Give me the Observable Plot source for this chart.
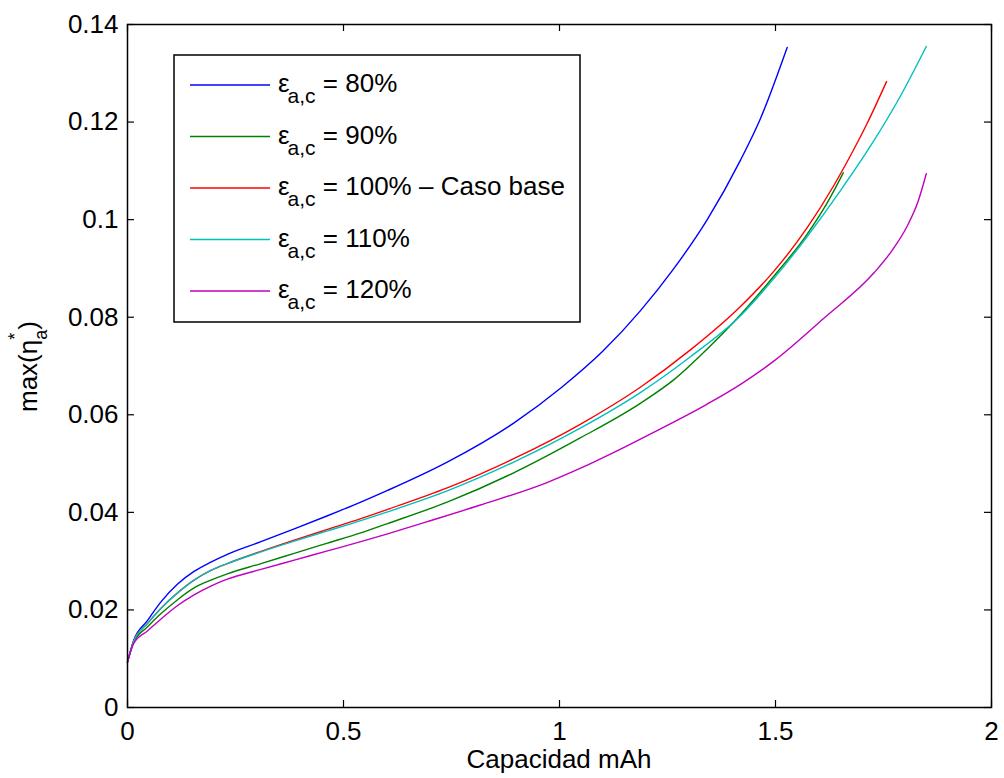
<!DOCTYPE html>
<html>
<head>
<meta charset="utf-8">
<script src="https://cdn.jsdelivr.net/npm/d3@7"></script>
<script src="https://cdn.jsdelivr.net/npm/@observablehq/plot@0.6"></script>
<style>
  html, body { margin: 0; padding: 0; background: #fff; }
  #chart { width: 1004px; height: 778px; }
</style>
</head>
<body>
<div id="chart"></div>
<script>
// Maximum normalised anode overpotential vs. discharged capacity, for each porosity ratio
const seriesNames  = ["80%", "90%", "100% – Caso base", "110%", "120%"];
const seriesColors = ["#0000ff", "#008000", "#ff0000", "#00bfbf", "#bf00bf"];

const capacity80 = [0, 0.014, 0.046, 0.077, 0.116, 0.154, 0.193, 0.231, 0.309, 0.386, 0.463, 0.540, 0.602, 0.740, 0.894, 1.006, 1.100, 1.188, 1.265, 1.342, 1.419, 1.465, 1.527];
const eta80      = [0.0093, 0.0137, 0.0178, 0.0216, 0.0253, 0.0279, 0.0298, 0.0314, 0.0340, 0.0366, 0.0393, 0.0421, 0.0445, 0.0503, 0.0583, 0.0657, 0.0730, 0.0814, 0.0900, 0.1000, 0.1122, 0.1207, 0.1353];

const capacity90 = [0, 0.014, 0.046, 0.077, 0.116, 0.154, 0.193, 0.231, 0.309, 0.386, 0.463, 0.540, 0.602, 0.740, 0.894, 1.049, 1.188, 1.265, 1.342, 1.419, 1.496, 1.573, 1.620, 1.657];
const eta90      = [0.0093, 0.0133, 0.0165, 0.0192, 0.0221, 0.0245, 0.0261, 0.0274, 0.0295, 0.0316, 0.0337, 0.0358, 0.0377, 0.0421, 0.0481, 0.0553, 0.0624, 0.0672, 0.0735, 0.0805, 0.0884, 0.0970, 0.1035, 0.1096];

const capacity100 = [0, 0.014, 0.046, 0.077, 0.116, 0.154, 0.193, 0.231, 0.309, 0.386, 0.463, 0.540, 0.602, 0.740, 0.894, 1.049, 1.188, 1.303, 1.419, 1.496, 1.573, 1.635, 1.674, 1.712, 1.757];
const eta100      = [0.0093, 0.0135, 0.0172, 0.0203, 0.0235, 0.0261, 0.0281, 0.0295, 0.0320, 0.0343, 0.0365, 0.0387, 0.0406, 0.0450, 0.0510, 0.0581, 0.0657, 0.0733, 0.0822, 0.0894, 0.0983, 0.1070, 0.1132, 0.1197, 0.1283];

const capacity110 = [0, 0.014, 0.046, 0.077, 0.116, 0.154, 0.193, 0.231, 0.309, 0.386, 0.463, 0.540, 0.602, 0.740, 0.894, 1.049, 1.188, 1.303, 1.419, 1.496, 1.573, 1.650, 1.720, 1.789, 1.849];
const eta110      = [0.0093, 0.0135, 0.0172, 0.0203, 0.0235, 0.0261, 0.0281, 0.0295, 0.0319, 0.0341, 0.0362, 0.0383, 0.0401, 0.0444, 0.0503, 0.0573, 0.0646, 0.0719, 0.0803, 0.0879, 0.0965, 0.1059, 0.1151, 0.1253, 0.1355];

const capacity120 = [0, 0.014, 0.046, 0.077, 0.116, 0.154, 0.193, 0.231, 0.309, 0.386, 0.463, 0.540, 0.602, 0.694, 0.817, 0.971, 1.050, 1.126, 1.211, 1.342, 1.420, 1.496, 1.612, 1.728, 1.770, 1.805, 1.830, 1.849];
const eta120      = [0.0093, 0.0131, 0.0157, 0.0181, 0.0209, 0.0231, 0.0249, 0.0263, 0.0283, 0.0302, 0.0321, 0.0340, 0.0356, 0.0381, 0.0415, 0.0461, 0.0491, 0.0523, 0.0561, 0.0622, 0.0663, 0.0710, 0.0798, 0.0891, 0.0937, 0.0987, 0.1037, 0.1094];

const xTicks = [0, 0.5, 1, 1.5, 2];
const xTickLabels = ["0", "0.5", "1", "1.5", "2"];
const yTicks = [0, 0.02, 0.04, 0.06, 0.08, 0.1, 0.12, 0.14];
const yTickLabels = ["0", "0.02", "0.04", "0.06", "0.08", "0.1", "0.12", "0.14"];

const xLabel = "Capacidad mAh";

// long-format rows for the line mark
const seriesData = [
  [capacity80, eta80], [capacity90, eta90], [capacity100, eta100],
  [capacity110, eta110], [capacity120, eta120]
];
const rows = seriesData.flatMap(([cap, eta], k) =>
  cap.map((c, i) => ({series: seriesNames[k], capacity: c, eta: eta[i]})));

const W = 1004, H = 778;
const margin = {left: 127, right: 13, top: 24, bottom: 71};
const innerW = W - margin.left - margin.right;
const innerH = H - margin.top - margin.bottom;
const tickLen = 7;
const font = "'Liberation Sans', Arial, Helvetica, sans-serif";

const svg = Plot.plot({
  width: W,
  height: H,
  marginLeft: margin.left,
  marginRight: margin.right,
  marginTop: margin.top,
  marginBottom: margin.bottom,
  style: {fontFamily: font, fontSize: "26px", color: "#000", background: "#fff", overflow: "visible"},
  x: {domain: [0, 2]},
  y: {domain: [0, 0.14]},
  color: {domain: seriesNames, range: seriesColors},
  marks: [
    Plot.line(rows, {x: "capacity", y: "eta", z: "series", stroke: "series", strokeWidth: 1.4, curve: "monotone-x"}),
    // inward ticks on all four sides
    Plot.tickX(xTicks, {x: d => d, insetBottom: innerH - tickLen, stroke: "#000", strokeWidth: 1.2}),
    Plot.tickX(xTicks, {x: d => d, insetTop: innerH - tickLen, stroke: "#000", strokeWidth: 1.2}),
    Plot.tickY(yTicks, {y: d => d, insetRight: innerW - tickLen, stroke: "#000", strokeWidth: 1.2}),
    Plot.tickY(yTicks, {y: d => d, insetLeft: innerW - tickLen, stroke: "#000", strokeWidth: 1.2}),
    Plot.frame({stroke: "#000", strokeWidth: 1.5}),
    Plot.axisX({ticks: xTicks, tickSize: 0, tickPadding: 14, label: null,
      tickFormat: d => xTickLabels[xTicks.indexOf(d)], fontSize: 26}),
    Plot.axisY({ticks: yTicks, tickSize: 0, tickPadding: 9, label: null,
      tickFormat: d => yTickLabels[yTicks.indexOf(d)], fontSize: 26})
  ]
});

document.getElementById("chart").appendChild(svg);

const root = d3.select(svg);

// x axis title
root.append("text")
  .attr("x", margin.left + innerW / 2)
  .attr("y", 768)
  .attr("text-anchor", "middle")
  .attr("font-family", font)
  .attr("font-size", 26)
  .attr("fill", "#000")
  .text(xLabel);

// y axis title: max(η with subscript a and superscript *)
const yl = root.append("text")
  .attr("transform", "translate(37,412) rotate(-90)")
  .attr("text-anchor", "start")
  .attr("font-family", font)
  .attr("font-size", 26)
  .attr("fill", "#000");
yl.append("tspan").text("max(η");
yl.append("tspan").attr("font-size", 18).attr("dy", 10).text("a");
yl.append("tspan").attr("font-size", 18).attr("dx", -10).attr("dy", -26).text("*");
yl.append("tspan").attr("dx", 3).attr("dy", 16).text(")");

// legend box
const lg = {x: 174, y: 55, w: 406, h: 267, row0: 85, step: 51.5, lineX1: 190, lineX2: 270, textX: 278};
const legend = root.append("g").attr("text-anchor", "start");
legend.append("rect")
  .attr("x", lg.x).attr("y", lg.y).attr("width", lg.w).attr("height", lg.h)
  .attr("fill", "#fff").attr("stroke", "#000").attr("stroke-width", 1.5);

seriesNames.forEach((name, i) => {
  const y = lg.row0 + i * lg.step;
  legend.append("line")
    .attr("x1", lg.lineX1).attr("x2", lg.lineX2)
    .attr("y1", y).attr("y2", y)
    .attr("stroke", seriesColors[i]).attr("stroke-width", 1.4);
  const t = legend.append("text")
    .attr("x", lg.textX).attr("y", y + 7)
    .attr("text-anchor", "start")
    .attr("font-family", font).attr("font-size", 26).attr("fill", "#000");
  t.append("tspan").text("ε");
  t.append("tspan").attr("font-size", 21).attr("dx", -2).attr("dy", 11).text("a,c");
  t.append("tspan").attr("dy", -11).text("\u00a0= " + name);
});
</script>
</body>
</html>
